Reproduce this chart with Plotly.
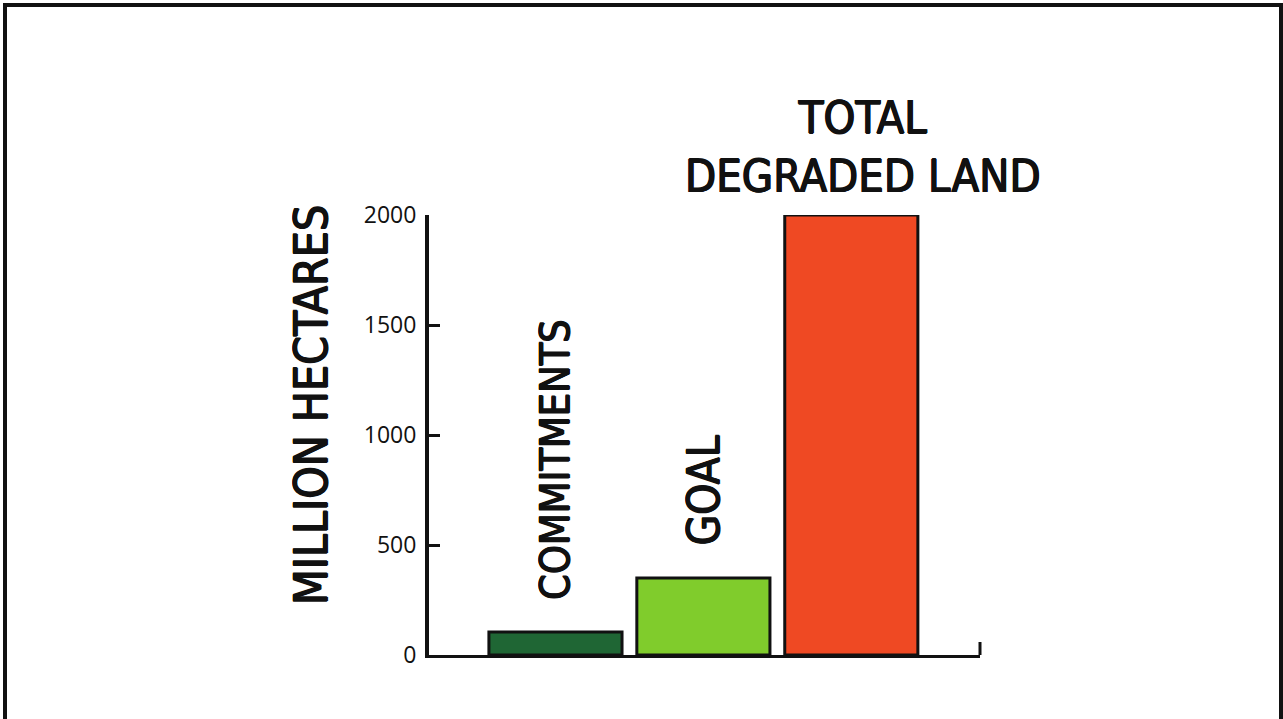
import plotly.graph_objects as go

# Land restoration figures, million hectares
categories = ["Commitments", "Goal", "Total degraded land"]
values = [105, 350, 2000]
bar_labels = ["COMMITMENTS", "GOAL", "TOTAL<br>DEGRADED LAND"]
bar_colors = ["#1f6634", "#80cc2c", "#ef4923"]
y_ticks = [0, 500, 1000, 1500, 2000]

W, H = 1283, 719
HAND = "Liberation Sans Narrow, Arial Narrow, DejaVu Sans Condensed, sans-serif"
# slight outline to give the narrow lettering a marker-pen weight
INK = "0.7px 0 0 #111111, -0.7px 0 0 #111111, 0 0.5px 0 #111111, 0 -0.5px 0 #111111"

# plot-area pixel box
px_left, px_right, px_top, px_bottom = 429, 980, 215, 655

fig = go.Figure()
fig.add_trace(go.Bar(
    x=list(range(len(categories))),
    y=values,
    width=0.9,
    marker=dict(color=bar_colors, line=dict(color="#111111", width=3)),
    hoverinfo="skip",
))

# labels above the bars
label_cfg = [
    dict(angle=-90, shift=30, xshift=0, size=41),
    dict(angle=-90, shift=31, xshift=0, size=44),
    dict(angle=0, shift=10, xshift=12, size=45),
]
for i, (txt, cfg) in enumerate(zip(bar_labels, label_cfg)):
    fig.add_annotation(
        x=i, y=values[i], xref="x", yref="y",
        text=txt, showarrow=False, textangle=cfg["angle"],
        xanchor="center", yanchor="bottom", yshift=cfg["shift"], xshift=cfg["xshift"],
        font=dict(family=HAND, size=cfg["size"], color="#111111", shadow=INK),
        align="center",
    )

# y-axis title
fig.add_annotation(
    x=311 / W, y=1 - 405 / H, xref="paper", yref="paper",
    text="MILLION HECTARES", showarrow=False, textangle=-90,
    xanchor="center", yanchor="middle",
    font=dict(family=HAND, size=46, color="#111111", shadow=INK),
)

# small end tick on the x axis line
fig.add_shape(type="line", xref="paper", yref="paper",
              x0=px_right / W, x1=px_right / W,
              y0=1 - px_bottom / H, y1=1 - 642 / H,
              line=dict(color="#111111", width=3))

# outer frame
fig.add_shape(type="rect", xref="paper", yref="paper",
              x0=5 / W, x1=1281 / W, y0=-0.05, y1=1 - 5 / H,
              line=dict(color="#111111", width=4), fillcolor="rgba(0,0,0,0)")

fig.update_layout(
    width=W, height=H,
    margin=dict(l=0, r=0, t=0, b=0),
    paper_bgcolor="white", plot_bgcolor="white",
    showlegend=False,
    xaxis=dict(
        domain=[px_left / W, px_right / W],
        range=[-0.855, 2.87],
        showline=True, linecolor="#111111", linewidth=3,
        showticklabels=False, ticks="", showgrid=False, zeroline=False,
        automargin=False,
    ),
    yaxis=dict(
        domain=[1 - px_bottom / H, 1 - px_top / H],
        range=[0, 2000],
        tickvals=y_ticks,
        showline=True, linecolor="#111111", linewidth=4,
        ticks="inside", ticklen=11, tickwidth=3, tickcolor="#111111",
        showgrid=False, zeroline=False,
        tickfont=dict(family="Open Sans, Noto Sans, sans-serif", size=23, color="#111111"),
        ticklabelstandoff=4,
        automargin=False,
    ),
)

fig.write_html("out.html")
